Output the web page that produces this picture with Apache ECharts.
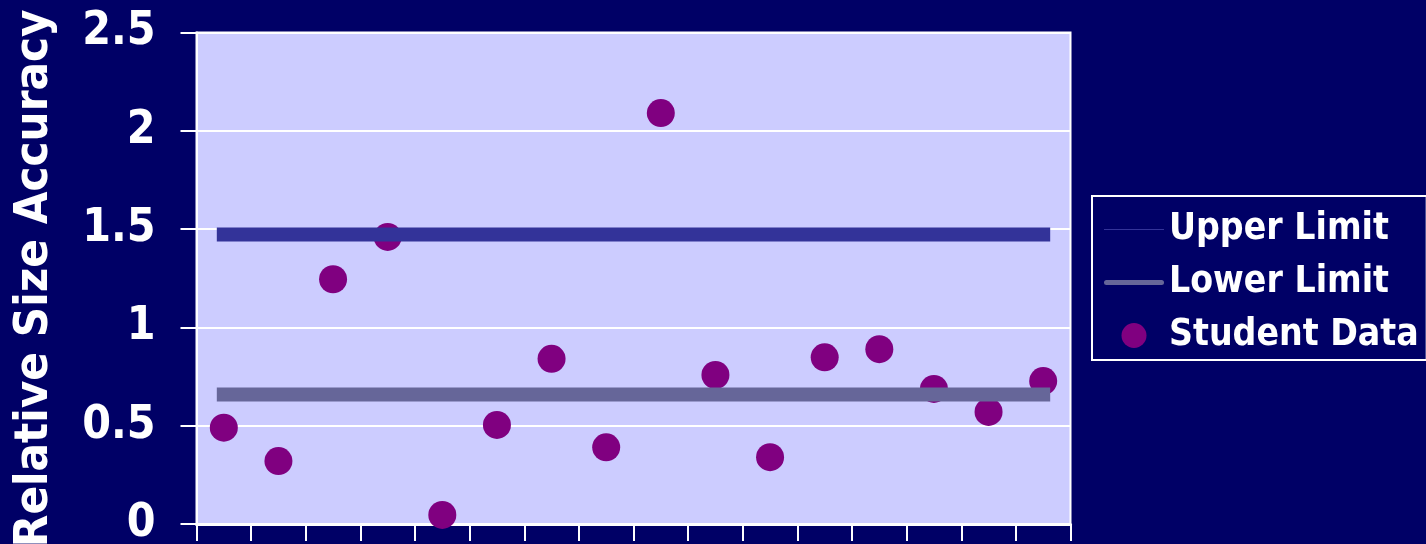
<!DOCTYPE html>
<html>
<head>
<meta charset="utf-8">
<script src="https://cdn.jsdelivr.net/npm/echarts@6/dist/echarts.min.js"></script>
<style>
  html, body { margin: 0; padding: 0; background: #000066; }
  #chart { width: 1426px; height: 544px; }
</style>
</head>
<body>
<div id="chart"></div>
<script>
// ---- data ----
const categories = ['1','2','3','4','5','6','7','8','9','10','11','12','13','14','15','16'];
const studentData = [0.49, 0.32, 1.245, 1.46, 0.046, 0.504, 0.84, 0.39, 2.09, 0.758, 0.34, 0.848, 0.889, 0.687, 0.57, 0.727];
const upperLimit = 1.473;
const lowerLimit = 0.659;
const yTicks = { min: 0, max: 2.5, interval: 0.5 };
const seriesNames = ['Upper Limit', 'Lower Limit', 'Student Data'];
const yAxisTitle = 'Relative Size Accuracy';

const FONT = "'DejaVu Sans Condensed', 'DejaVu Sans', sans-serif";
const first = categories[0], last = categories[categories.length - 1];

const chart = echarts.init(document.getElementById('chart'), null, { renderer: 'canvas' });
chart.setOption({
  animation: false,
  backgroundColor: '#000066',
  grid: {
    left: 196.5, right: 355.5, top: 32.5, bottom: 20,
    show: true, backgroundColor: '#CCCCFF', borderColor: '#FFFFFF', borderWidth: 2,
    containLabel: false,
    outerBoundsMode: 'none'
  },
  legend: {
    orient: 'vertical',
    left: 1092, top: 196,
    padding: [15, 8, 6, 12],
    itemGap: 16,
    itemWidth: 60, itemHeight: 25,
    borderColor: '#FFFFFF', borderWidth: 2,
    itemStyle: { borderWidth: 0 },
    textStyle: { color: '#FFFFFF', fontFamily: FONT, fontWeight: 'bold', fontSize: 37, lineHeight: 37 },
    data: [
      { name: seriesNames[0], icon: 'path://M0,0h60v1.2h-60z', itemStyle: { color: '#333399', borderWidth: 0 } },
      { name: seriesNames[1], icon: 'path://M2.5,0h55a2.5,2.5 0 0 1 0,5h-55a2.5,2.5 0 0 1 0,-5z', itemStyle: { color: '#666699', borderWidth: 0 } },
      { name: seriesNames[2], icon: 'circle', itemStyle: { color: '#800080', borderWidth: 0 } }
    ]
  },
  xAxis: {
    type: 'category',
    data: categories,
    boundaryGap: true,
    axisLine: { show: true, lineStyle: { color: '#FFFFFF', width: 3 } },
    axisTick: { show: true, interval: 0, length: 17, lineStyle: { color: '#FFFFFF', width: 2 } },
    axisLabel: { show: false },
    splitLine: { show: false }
  },
  yAxis: {
    type: 'value',
    min: yTicks.min, max: yTicks.max, interval: yTicks.interval,
    name: yAxisTitle,
    nameLocation: 'middle',
    nameGap: 138,
    nameRotate: 90,
    nameTextStyle: { color: '#FFFFFF', fontFamily: FONT, fontWeight: 'bold', fontSize: 47 },
    axisLine: { show: true, lineStyle: { color: '#FFFFFF', width: 2 } },
    axisTick: { show: true, length: 16, lineStyle: { color: '#FFFFFF', width: 2 } },
    axisLabel: { color: '#FFFFFF', fontFamily: FONT, fontWeight: 'bold', fontSize: 46, margin: 41 },
    splitLine: { show: true, lineStyle: { color: '#FFFFFF', width: 2 } }
  },
  series: [
    {
      name: seriesNames[0], type: 'line', z: 3,
      data: [[first, upperLimit], [last, upperLimit]],
      showSymbol: false, symbol: 'none',
      itemStyle: { color: '#333399' },
      lineStyle: { color: '#333399', width: 14, cap: 'square' }
    },
    {
      name: seriesNames[1], type: 'line', z: 3,
      data: [[first, lowerLimit], [last, lowerLimit]],
      showSymbol: false, symbol: 'none',
      itemStyle: { color: '#666699' },
      lineStyle: { color: '#666699', width: 14, cap: 'square' }
    },
    {
      name: seriesNames[2], type: 'scatter', z: 2,
      data: studentData,
      symbol: 'circle', symbolSize: 28,
      itemStyle: { color: '#800080', opacity: 1 }
    }
  ]
});
</script>
</body>
</html>
